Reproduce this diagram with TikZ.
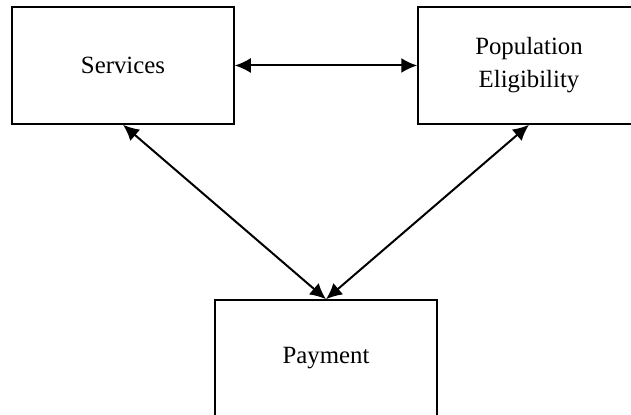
\documentclass[tikz,border=0pt]{standalone}
\usepackage{fontspec}
\setmainfont{Liberation Serif}
\usetikzlibrary{arrows.meta}

\begin{document}
\begin{tikzpicture}[%
      x=0.5pt, y=-0.5pt,
      box/.style={draw=black, line width=0.75pt, fill=white, minimum width=111pt,
        minimum height=58.5pt, align=center, font=\fontsize{12.4}{16.5}\selectfont},
      link/.style={color=black, line width=1pt, {Latex[length=8pt,width=7.5pt]}-{Latex[length=8pt,width=7.5pt]}},
      ]
      \useasboundingbox (0,0) rectangle (631,415);
      \clip (0,0) rectangle (631,415);

      \node [box] (serv) at (123,65.5) {Services};
      \node [box] (elig) at (529,65.5) {Population\\Eligibility};
      \node [box] (pay) at (326,358.5) {Payment};

      \draw [link] (serv.east) -- (elig.west);
      \draw [link] (serv.south) -- (pay.north);
      \draw [link] (elig.south) -- (pay.north);
\end{tikzpicture}
\end{document}
